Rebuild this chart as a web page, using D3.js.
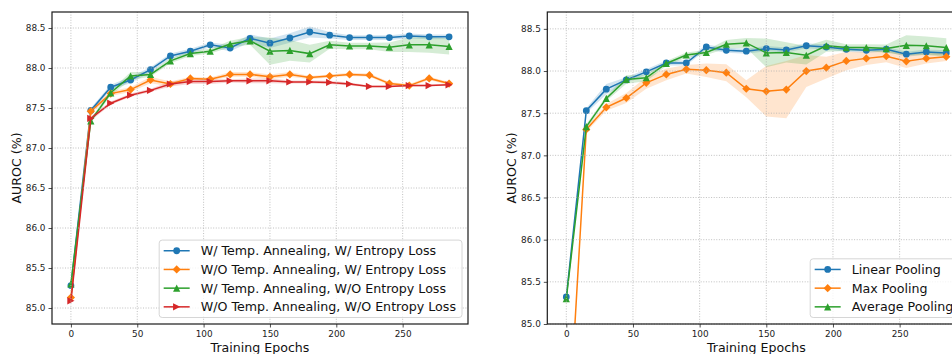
<!DOCTYPE html>
<html>
<head>
<meta charset="utf-8">
<script src="https://cdn.jsdelivr.net/npm/d3@7"></script>
<style>
	body { margin: 0; background: #fff; }
	svg { display: block; font-family: "DejaVu Sans", sans-serif; }
	.grid line { stroke: #b0b0b0; stroke-width: 0.8; stroke-dasharray: 1, 1.6; }
</style>
</head>
<body>
<div id="chart"></div>
<script>
// data
var epochs = [0, 15, 30, 45, 60, 75, 90, 105, 120, 135, 150, 165, 180, 195, 210, 225, 240, 255, 270, 285];
var epochTicks = [0, 50, 100, 150, 200, 250];
var aurocTicks = [85.0, 85.5, 86.0, 86.5, 87.0, 87.5, 88.0, 88.5];

// left panel: temperature annealing / entropy loss ablation
var leftLabels = [
	"W/ Temp. Annealing, W/ Entropy Loss",
	"W/O Temp. Annealing, W/ Entropy Loss",
	"W/ Temp. Annealing, W/O Entropy Loss",
	"W/O Temp. Annealing, W/O Entropy Loss"
];
var annealEntropy = [85.28, 87.47, 87.76, 87.85, 87.98, 88.15, 88.21, 88.29, 88.25, 88.37, 88.31, 88.375, 88.45, 88.41, 88.38, 88.38, 88.38, 88.40, 88.39, 88.39];
var annealEntropyStd = [0.02, 0.03, 0.03, 0.04, 0.03, 0.03, 0.03, 0.03, 0.04, 0.05, 0.06, 0.06, 0.07, 0.04, 0.03, 0.03, 0.03, 0.03, 0.03, 0.03];
var noAnnealEntropy = [85.13, 87.46, 87.68, 87.73, 87.85, 87.80, 87.87, 87.86, 87.92, 87.92, 87.89, 87.92, 87.88, 87.90, 87.92, 87.91, 87.805, 87.78, 87.87, 87.805];
var noAnnealEntropyStd = [0.02, 0.03, 0.03, 0.03, 0.04, 0.03, 0.02, 0.02, 0.03, 0.03, 0.03, 0.03, 0.02, 0.02, 0.02, 0.02, 0.02, 0.02, 0.02, 0.02];
var annealNoEntropy = [85.30, 87.34, 87.69, 87.90, 87.92, 88.09, 88.18, 88.21, 88.30, 88.34, 88.21, 88.22, 88.18, 88.29, 88.275, 88.275, 88.26, 88.29, 88.29, 88.27];
var annealNoEntropyStd = [0.02, 0.03, 0.03, 0.05, 0.03, 0.03, 0.03, 0.03, 0.04, 0.05, 0.17, 0.13, 0.11, 0.05, 0.04, 0.04, 0.06, 0.09, 0.1, 0.1];
var noAnnealNoEntropy = [85.09, 87.37, 87.56, 87.66, 87.72, 87.80, 87.83, 87.83, 87.84, 87.84, 87.84, 87.825, 87.825, 87.82, 87.80, 87.77, 87.77, 87.78, 87.78, 87.79];
var noAnnealNoEntropyStd = [0.02, 0.03, 0.02, 0.02, 0.02, 0.03, 0.03, 0.03, 0.02, 0.03, 0.03, 0.02, 0.02, 0.02, 0.02, 0.01, 0.01, 0.01, 0.01, 0.01];

// right panel: pooling ablation
var rightLabels = ["Linear Pooling", "Max Pooling", "Average Pooling"];
var linearPool = [85.32, 87.53, 87.785, 87.895, 87.99, 88.095, 88.095, 88.285, 88.246, 88.235, 88.266, 88.25, 88.30, 88.285, 88.258, 88.246, 88.258, 88.20, 88.226, 88.215];
var linearPoolStd = [0.02, 0.03, 0.06, 0.03, 0.03, 0.03, 0.03, 0.03, 0.03, 0.03, 0.03, 0.03, 0.03, 0.03, 0.03, 0.03, 0.03, 0.03, 0.03, 0.03];
var maxPool = [83.25, 87.307, 87.57, 87.68, 87.86, 87.96, 88.02, 88.01, 87.98, 87.79, 87.76, 87.78, 88.00, 88.04, 88.12, 88.15, 88.175, 88.115, 88.15, 88.17];
var maxPoolStd = [0.05, 0.03, 0.04, 0.06, 0.07, 0.07, 0.05, 0.08, 0.1, 0.1, 0.30, 0.34, 0.19, 0.13, 0.11, 0.08, 0.07, 0.08, 0.06, 0.05];
var avgPool = [85.30, 87.34, 87.675, 87.90, 87.92, 88.09, 88.19, 88.22, 88.318, 88.333, 88.215, 88.22, 88.187, 88.30, 88.278, 88.278, 88.266, 88.305, 88.30, 88.278];
var avgPoolStd = [0.02, 0.03, 0.03, 0.05, 0.04, 0.03, 0.03, 0.03, 0.05, 0.06, 0.17, 0.12, 0.11, 0.07, 0.04, 0.04, 0.05, 0.12, 0.11, 0.11];

var colors = ["#1f77b4", "#ff7f0e", "#2ca02c", "#d62728"];

// matplotlib style markers: o, D, ^, >
function markerPath (kind) {
	var r = 3.4, d = 4.1, t = 3.6;
	if (kind === "o") return d3.symbol(d3.symbolCircle, Math.PI * r * r)();
	if (kind === "D") return "M0," + (-d) + "L" + d + ",0L0," + d + "L" + (-d) + ",0Z";
	if (kind === "^") return "M0," + (-t) + "L" + t + "," + t + "L" + (-t) + "," + t + "Z";
	return "M" + t + ",0L" + (-t) + "," + t + "L" + (-t) + "," + (-t) + "Z";
}

function Panel (svg, box, yDomain, series, id) {
	var x = d3.scaleLinear().domain([-14.25, 299.25]).range([box.left, box.right]);
	var y = d3.scaleLinear().domain(yDomain).range([box.bottom, box.top]);
	var g = svg.append("g");

	g.append("clipPath").attr("id", id)
		.append("rect")
		.attr("x", box.left).attr("y", box.top)
		.attr("width", box.right - box.left).attr("height", box.bottom - box.top);

	var plot = g.append("g").attr("clip-path", "url(#" + id + ")");

	// bands
	series.forEach(function (s) {
		var area = d3.area()
			.x(function (d, i) { return x(epochs[i]); })
			.y0(function (d, i) { return y(d - s.std[i]); })
			.y1(function (d, i) { return y(d + s.std[i]); });
		plot.append("path")
			.attr("d", area(s.values))
			.attr("fill", s.color)
			.attr("fill-opacity", 0.2);
	});

	// grid
	var grid = g.append("g").attr("class", "grid");
	grid.selectAll(".gx").data(epochTicks).enter().append("line")
		.attr("x1", x).attr("x2", x)
		.attr("y1", box.top).attr("y2", box.bottom);
	grid.selectAll(".gy").data(aurocTicks).enter().append("line")
		.attr("y1", y).attr("y2", y)
		.attr("x1", box.left).attr("x2", box.right);

	// lines + markers
	var line = d3.line()
		.x(function (d, i) { return x(epochs[i]); })
		.y(function (d) { return y(d); });
	series.forEach(function (s) {
		plot.append("path")
			.attr("d", line(s.values))
			.attr("fill", "none")
			.attr("stroke", s.color)
			.attr("stroke-width", 1.5);
		plot.selectAll(null).data(s.values).enter().append("path")
			.attr("d", markerPath(s.marker))
			.attr("transform", function (d, i) { return "translate(" + x(epochs[i]) + "," + y(d) + ")"; })
			.attr("fill", s.color);
	});

	// axes
	var xAxis = d3.axisBottom(x).tickValues(epochTicks).tickSize(3.5).tickPadding(3);
	var yAxis = d3.axisLeft(y).tickValues(aurocTicks).tickSize(3.5).tickPadding(3).tickFormat(d3.format(".1f"));
	var gx = g.append("g").attr("transform", "translate(0," + box.bottom + ")").call(xAxis);
	var gy = g.append("g").attr("transform", "translate(" + box.left + ",0)").call(yAxis);
	[gx, gy].forEach(function (a) {
		a.select(".domain").remove();
		a.selectAll("text").attr("font-size", 8.9).attr("fill", "#222").attr("font-family", "DejaVu Sans");
		a.selectAll("line").attr("stroke", "#222").attr("stroke-width", 0.8);
	});

	g.append("rect")
		.attr("x", box.left).attr("y", box.top)
		.attr("width", box.right - box.left).attr("height", box.bottom - box.top)
		.attr("fill", "none").attr("stroke", "#1a1a1a").attr("stroke-width", 1.2);

	// axis labels
	g.append("text")
		.attr("x", (box.left + box.right) / 2).attr("y", 351.5)
		.attr("text-anchor", "middle").attr("font-size", 12.6).attr("fill", "#111")
		.text("Training Epochs");
	g.append("text")
		.attr("transform", "translate(" + (box.left - 31.5) + "," + ((box.top + box.bottom) / 2) + ") rotate(-90)")
		.attr("text-anchor", "middle").attr("font-size", 12.6).attr("fill", "#111")
		.text("AUROC (%)");

	// legend, lower right
	var rowH = 18.7;
	var leg = g.append("g");
	var frame = leg.append("rect");
	var texts = [];
	series.forEach(function (s, i) {
		var row = leg.append("g").attr("transform", "translate(0," + (i * rowH) + ")");
		row.append("line").attr("x1", 0).attr("x2", 26).attr("stroke", s.color).attr("stroke-width", 1.5);
		row.append("path").attr("d", markerPath(s.marker)).attr("transform", "translate(13,0)").attr("fill", s.color);
		texts.push(row.append("text").attr("x", 37).attr("dy", "0.36em")
			.attr("font-size", 12.65).attr("fill", "#111").text(s.label));
	});
	var maxW = d3.max(texts, function (t) { return t.node().getComputedTextLength(); });
	var w = 4.5 + 37 + maxW + 6;
	var h = (series.length - 1) * rowH + 21.3;
	var lx = box.right - 6 - w;
	var ly = box.bottom - 6.5 - h;
	frame.attr("x", -4.5).attr("y", -10.65).attr("width", w).attr("height", h)
		.attr("rx", 3).attr("fill", "#fff").attr("fill-opacity", 0.8)
		.attr("stroke", "#cccccc").attr("stroke-width", 0.8);
	leg.attr("transform", "translate(" + (lx + 4.5) + "," + (ly + 10.65) + ")");
}

var svg = d3.select("#chart").append("svg").attr("width", 952).attr("height", 354);

Panel(svg, { left: 52, right: 468, top: 12, bottom: 324 }, [84.8, 88.7], [
	{ values: annealEntropy, std: annealEntropyStd, color: colors[0], marker: "o", label: leftLabels[0] },
	{ values: noAnnealEntropy, std: noAnnealEntropyStd, color: colors[1], marker: "D", label: leftLabels[1] },
	{ values: annealNoEntropy, std: annealNoEntropyStd, color: colors[2], marker: "^", label: leftLabels[2] },
	{ values: noAnnealNoEntropy, std: noAnnealNoEntropyStd, color: colors[3], marker: ">", label: leftLabels[3] }
], "clipL");

Panel(svg, { left: 547.3, right: 965.3, top: 12, bottom: 324 }, [85.0, 88.7], [
	{ values: linearPool, std: linearPoolStd, color: colors[0], marker: "o", label: rightLabels[0] },
	{ values: maxPool, std: maxPoolStd, color: colors[1], marker: "D", label: rightLabels[1] },
	{ values: avgPool, std: avgPoolStd, color: colors[2], marker: "^", label: rightLabels[2] }
], "clipR");
</script>
</body>
</html>
